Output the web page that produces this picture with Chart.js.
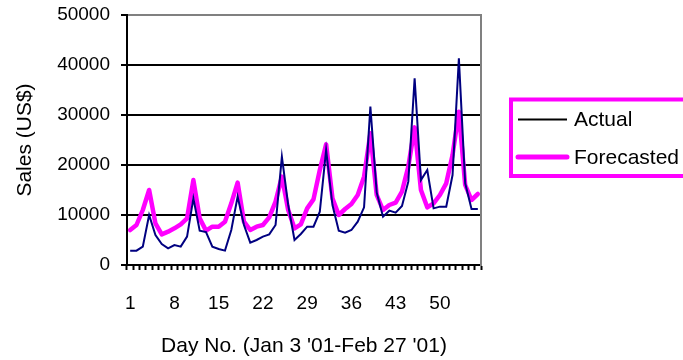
<!DOCTYPE html>
<html>
<head>
<meta charset="utf-8">
<script src="https://cdn.jsdelivr.net/npm/chart.js@4"></script>
<style>
  html, body { margin: 0; padding: 0; background: #fff; overflow: hidden; }
  #wrap { width: 683px; height: 360px; }
</style>
</head>
<body>
<div id="wrap"><canvas id="salesChart" width="683" height="360"></canvas></div>
<script>
// day numbers 1..56 (Jan 3 '01 - Feb 27 '01)
const days = Array.from({ length: 56 }, (_, i) => String(i + 1));
const labeledDays = ['1', '8', '15', '22', '29', '36', '43', '50'];
const yTicks = [0, 10000, 20000, 30000, 40000, 50000];

const actualSales = [
  2870, 2870, 3670, 10000, 6000, 4200, 3330, 4000, 3670, 5670,
  13330, 6870, 6600, 3670, 3200, 2870, 7000, 13670, 8000, 4470,
  5000, 5670, 6130, 8000, 21670, 12000, 5000, 6200, 7670, 7670,
  10670, 23000, 12000, 6870, 6470, 7000, 8670, 11530, 31670, 14500,
  9670, 10870, 10470, 11800, 16670, 37330, 17000, 19000, 11330, 11670,
  11670, 18000, 41330, 16330, 11200, 11200
];
const forecastSales = [
  7000, 8000, 11000, 15000, 8330, 6130, 6670, 7330, 8130, 9330,
  17000, 9330, 6870, 7670, 7670, 8670, 12330, 16470, 8670, 7000,
  7670, 8000, 9530, 12670, 17670, 11000, 7330, 8130, 11330, 13130,
  19000, 24130, 13330, 10000, 11200, 12200, 14000, 17670, 26330, 14000,
  11000, 12000, 12470, 14670, 19670, 27530, 15000, 11530, 12330, 14000,
  16330, 22000, 30670, 16000, 13000, 14200
];

const seriesNames  = ['Actual', 'Forecasted'];
const seriesColors = ['#000080', '#FF00FF'];
const legendColors = ['#000000', '#FF00FF'];
const seriesWidths = [2, 4.5];

const FONT = '"Liberation Sans", Arial, sans-serif';

// boxed legend to the right of the plot, like the spreadsheet one
const boxedLegend = {
  id: 'boxedLegend',
  afterDraw(chart) {
    const { ctx, chartArea } = chart;
    const left = chartArea.right + 30;
    const top = 99.5;
    ctx.save();
    ctx.strokeStyle = '#FF00FF';
    ctx.lineWidth = 4;
    ctx.strokeRect(left, top, 220, 76.5);
    seriesNames.forEach((name, i) => {
      const y = top + 20 + i * 37.5;
      ctx.beginPath();
      ctx.strokeStyle = legendColors[i];
      ctx.lineWidth = i === 0 ? 1.8 : 5;
      ctx.lineCap = i === 0 ? 'butt' : 'round';
      ctx.moveTo(left + 7, y);
      ctx.lineTo(left + 56, y);
      ctx.stroke();
      ctx.fillStyle = '#000';
      ctx.font = '21px ' + FONT;
      ctx.textBaseline = 'middle';
      ctx.fillText(name, left + 63, y + 1);
    });
    ctx.restore();
  }
};

new Chart(document.getElementById('salesChart'), {
  type: 'line',
  data: {
    labels: days,
    datasets: [
      {
        label: seriesNames[0],
        data: actualSales,
        borderColor: seriesColors[0],
        backgroundColor: seriesColors[0],
        borderWidth: seriesWidths[0],
        pointRadius: 0,
        tension: 0,
        fill: false,
      },
      {
        label: seriesNames[1],
        data: forecastSales,
        borderColor: seriesColors[1],
        backgroundColor: seriesColors[1],
        borderWidth: seriesWidths[1],
        borderJoinStyle: 'round',
        borderCapStyle: 'round',
        pointRadius: 0,
        tension: 0,
        fill: false,
      }
    ]
  },
  options: {
    responsive: false,
    animation: false,
    devicePixelRatio: 1,
    layout: { padding: { left: 0, top: 15, right: 202, bottom: 0 } },
    plugins: {
      legend: { display: false },
      tooltip: { enabled: false },
    },
    scales: {
      x: {
        type: 'category',
        offset: true,
        grid: {
          display: true,
          drawOnChartArea: false,
          offset: true,
          tickLength: 5,
          tickWidth: 2,
          tickColor: '#000',
          color: '#000',
        },
        border: { color: '#000', width: 2 },
        ticks: {
          autoSkip: false,
          maxRotation: 0,
          color: '#000',
          font: { family: FONT, size: 19 },
          padding: 22,
          callback(v) {
            const l = this.getLabelForValue(v);
            return labeledDays.includes(l) ? l : '';
          }
        },
        title: {
          display: true,
          text: "Day No. (Jan 3 '01-Feb 27 '01)",
          color: '#000',
          font: { family: FONT, size: 21 },
          padding: { top: 0, bottom: 1 },
        },
        afterFit(s) {
          s.height = 95;
          s.paddingLeft = 0;
          s.paddingRight = 0;
        }
      },
      y: {
        min: yTicks[0],
        max: yTicks[yTicks.length - 1],
        ticks: {
          stepSize: 10000,
          color: '#000',
          font: { family: FONT, size: 19 },
          padding: 11,
          callback: v => String(v),
        },
        grid: {
          color: ctx => ctx.tick && ctx.tick.value === 50000 ? '#808080' : '#000',
          lineWidth: 2,
          tickLength: 6,
          tickColor: '#000',
        },
        border: { color: '#000', width: 2 },
        title: {
          display: true,
          text: 'Sales (US$)',
          color: '#000',
          font: { family: FONT, size: 21 },
          padding: { top: 13, bottom: 0 },
        },
        afterFit(s) {
          s.width = 127;
          s.paddingTop = 0;
          s.paddingBottom = 0;
        }
      },
      yRight: {
        position: 'right',
        display: true,
        grid: { drawOnChartArea: false, drawTicks: false },
        ticks: { display: false },
        border: { color: '#808080', width: 2 },
        afterFit(s) {
          s.width = 0;
          s.paddingTop = 0;
          s.paddingBottom = 0;
        }
      }
    }
  },
  plugins: [boxedLegend]
});
</script>
</body>
</html>
